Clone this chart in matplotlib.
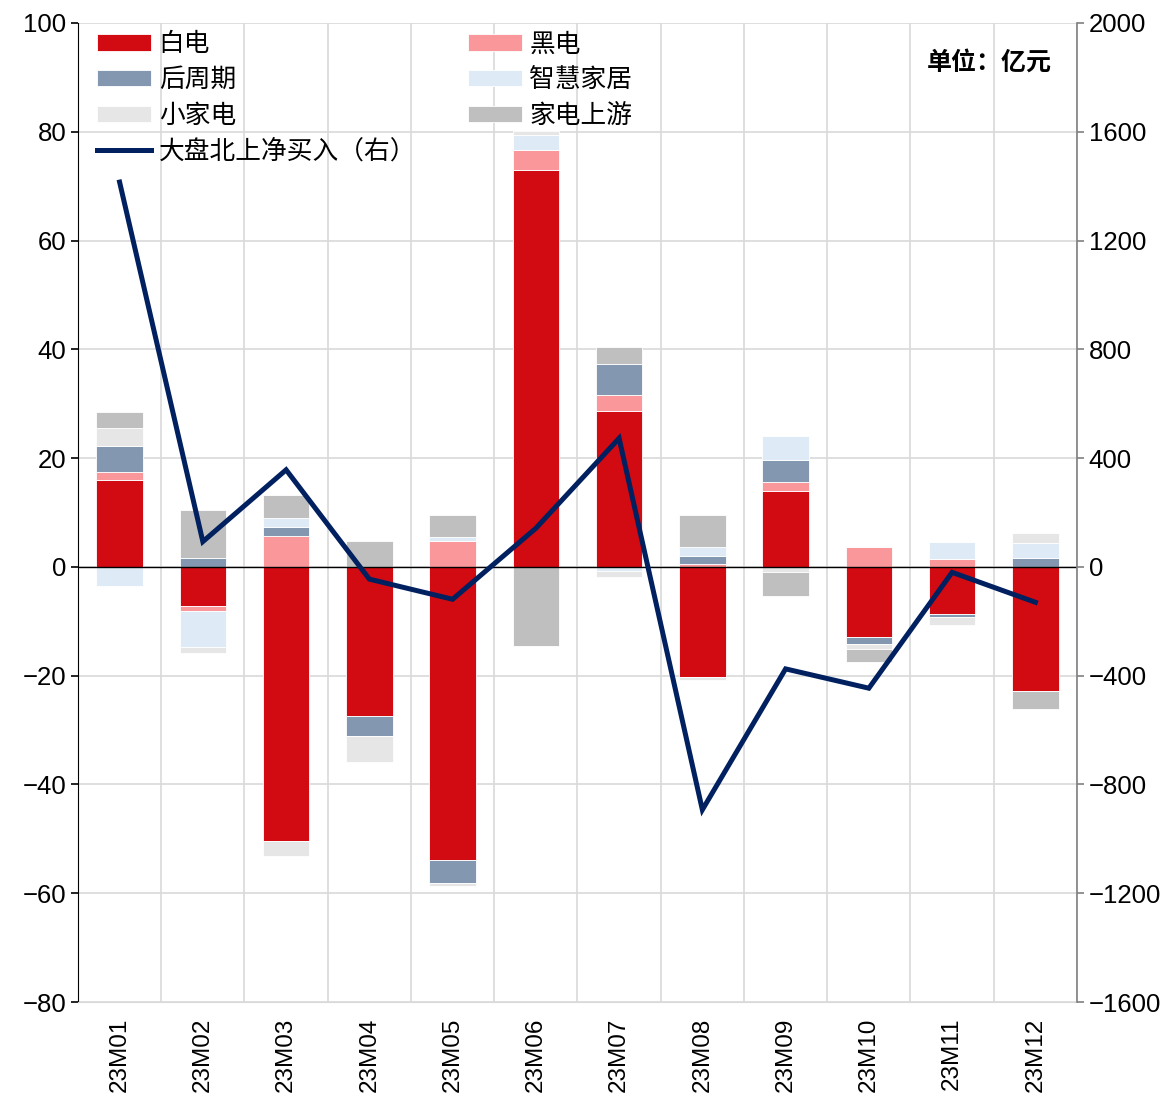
import numpy as np
import matplotlib
matplotlib.use("Agg")
from matplotlib import pyplot as plt

plt.rcParams['font.family'] = ['Liberation Sans', 'Noto Sans CJK SC', 'DejaVu Sans']

months = ["23M01", "23M02", "23M03", "23M04", "23M05", "23M06",
          "23M07", "23M08", "23M09", "23M10", "23M11", "23M12"]

# 行业资金流入（左轴，亿元）
baidian = [16.0, -7.2, -50.4, -27.4, -53.9, 72.9, 28.6, -20.3, 13.9, -12.8, -8.6, -22.9]
heidian = [1.5, -0.9, 5.7, 0.0, 4.85, 3.8, 3.0, 0.55, 1.7, 3.7, 1.5, 0.0]
houzhouqi = [4.8, 1.7, 1.7, -3.7, -4.3, 0.0, 5.7, 1.5, 4.0, -1.4, -0.7, 1.65]
zhihui = [-3.5, -6.7, 1.55, 0.0, 0.6, 2.7, -0.7, 1.6, 4.5, 0.2, 3.1, 2.8]
xiaojiadian = [3.3, -1.0, -2.7, -4.8, -0.5, 0.8, -1.1, -0.5, -0.9, -0.9, -1.4, 1.8]
shangyou = [2.8, 8.8, 4.3, 4.7, 4.05, -14.5, 3.1, 5.9, -4.4, -2.4, 0.0, -3.2]

# 大盘北上净买入（右轴，亿元）
beishang = [1415, 93, 357, -45, -119, 142, 473, -893, -375, -446, -20, -130]

series = [
    ("白电", baidian, "#D20A11"),
    ("黑电", heidian, "#F9979A"),
    ("后周期", houzhouqi, "#8497B0"),
    ("智慧家居", zhihui, "#DEEAF6"),
    ("小家电", xiaojiadian, "#E6E6E6"),
    ("家电上游", shangyou, "#BFBFBF"),
]

fig = plt.figure(figsize=(11.76, 10.95), dpi=100)
ax = fig.add_axes([0.0663, 0.0849, 0.8495, 0.8941])
ax2 = ax.twinx()

x = np.arange(len(months))
pos_base = np.zeros(len(months))
neg_base = np.zeros(len(months))
handles = {}
for name, vals, color in series:
    v = np.array(vals, dtype=float)
    bottom = np.where(v >= 0, pos_base, neg_base)
    b = ax.bar(x, v, 0.56, bottom=bottom, color=color, edgecolor="white",
               linewidth=0.6, zorder=2, label=name)
    handles[name] = b
    pos_base += np.where(v >= 0, v, 0)
    neg_base += np.where(v < 0, v, 0)

line, = ax2.plot(x, beishang, color="#002060", lw=3.6, zorder=5,
                 solid_joinstyle="miter", label="大盘北上净买入（右）")

ax.set_xlim(-0.5, 11.5)
ax.set_ylim(-80, 100)
ax.set_yticks(np.arange(-80, 101, 20))
ax2.set_ylim(-1600, 2000)
ax2.set_yticks(np.arange(-1600, 2001, 400))

ax.set_xticks(x)
ax.set_xticklabels(months, rotation=90, fontsize=17.5)
ax.set_xticks(np.arange(-0.5, 12, 1), minor=True)
ax.tick_params(axis="x", which="both", length=0, pad=11)
ax.tick_params(axis="y", labelsize=18.5, length=5, width=1.2, color="black", direction="out")
ax2.tick_params(axis="y", labelsize=18.5, length=5, width=1.2, color="#808080", direction="out")

ax.grid(True, axis="y", color="#D9D9D9", lw=1.2, zorder=0)
ax.grid(True, axis="x", which="minor", color="#D9D9D9", lw=1.2, zorder=0)
ax.axhline(0, color="black", lw=1.0, zorder=3)

for s in ["top"]:
    ax.spines[s].set_visible(False)
    ax2.spines[s].set_visible(False)
ax.spines["bottom"].set_color("#D9D9D9")
ax2.spines["bottom"].set_visible(False)
ax.spines["left"].set_color("black")
ax2.spines["left"].set_visible(False)
ax2.spines["right"].set_color("#808080")
ax2.spines["right"].set_linewidth(1.2)
ax.spines["right"].set_visible(False)

order = [handles["白电"], handles["后周期"], handles["小家电"], line,
         handles["黑电"], handles["智慧家居"], handles["家电上游"]]
labels = ["白电", "后周期", "小家电", "大盘北上净买入（右）",
          "黑电", "智慧家居", "家电上游"]
ax2.legend(order, labels, ncol=2, loc="upper left", bbox_to_anchor=(-0.004, 1.015),
           frameon=False, handlelength=2.1, handleheight=0.6,
           labelspacing=0.38, columnspacing=2.0, handletextpad=0.3,
           prop={"family": ["Noto Sans CJK SC"], "size": 18.5})

ax2.text(0.975, 0.96, "单位：亿元", transform=ax.transAxes, ha="right", va="center",
         fontsize=18, fontweight="bold", family=["Noto Sans CJK SC"])

fig.savefig("out.png", dpi=100)
